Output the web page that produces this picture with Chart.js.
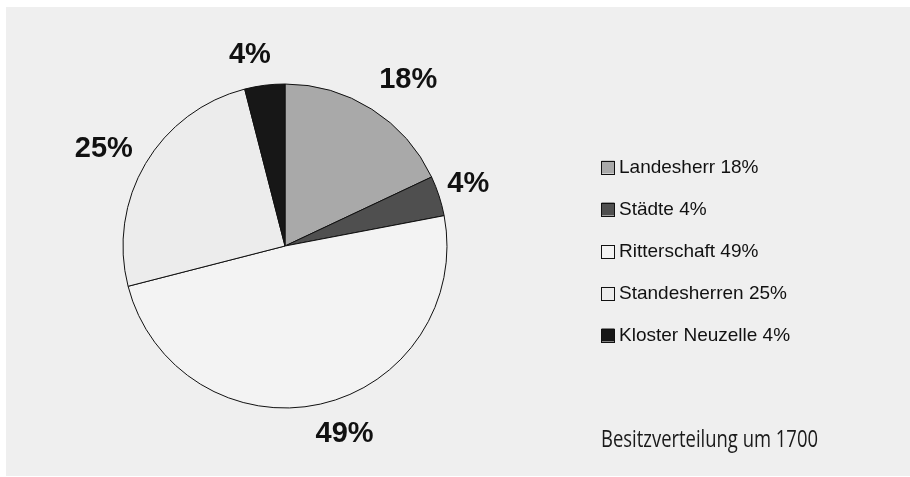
<!DOCTYPE html>
<html>
<head>
<meta charset="utf-8">
<script src="https://cdn.jsdelivr.net/npm/chart.js@4/dist/chart.umd.min.js"></script>
<style>
  html, body { margin: 0; padding: 0; background: #ffffff; }
  canvas { display: block; }
</style>
</head>
<body>
<canvas id="c" width="910" height="477"></canvas>
<script>
const categories = ["Landesherr", "Städte", "Ritterschaft", "Standesherren", "Kloster Neuzelle"];
const shares = [18, 4, 49, 25, 4];
const sliceColors = ["#a9a9a9", "#4f4f4f", "#f3f3f3", "#ececec", "#171717"];
const footnote = "Besitzverteilung um 1700";

// per-label nudges (px) applied after radial placement
const labelNudges = [[16, 3], [-7, 0], [16, -7], [-9, 5], [-10, 7]];

const panelPlugin = {
  id: 'panel',
  beforeDraw(chart) {
    const ctx = chart.ctx;
    ctx.save();
    ctx.fillStyle = '#ffffff';
    ctx.fillRect(0, 0, chart.width, chart.height);
    ctx.fillStyle = '#efefef';
    ctx.fillRect(6, 7, chart.width - 6, chart.height - 8);
    ctx.restore();
  }
};

const labelsPlugin = {
  id: 'pctLabels',
  afterDraw(chart) {
    const ctx = chart.ctx;
    const meta = chart.getDatasetMeta(0);
    ctx.save();
    // percentage labels around the pie
    ctx.font = 'bold 29px "Liberation Sans", Arial, sans-serif';
    ctx.fillStyle = '#111111';
    ctx.textAlign = 'center';
    ctx.textBaseline = 'middle';
    meta.data.forEach((arc, i) => {
      const p = arc.getProps(['x', 'y', 'startAngle', 'endAngle', 'outerRadius'], true);
      const mid = (p.startAngle + p.endAngle) / 2;
      const d = p.outerRadius + 38;
      const x = p.x + Math.cos(mid) * d + labelNudges[i][0];
      const y = p.y + Math.sin(mid) * d + labelNudges[i][1];
      ctx.fillText(shares[i] + '%', x, y);
    });

    // legend
    const lx = 601.5, ly0 = 167, step = 42, box = 13;
    ctx.font = '19px "Liberation Sans", Arial, sans-serif';
    ctx.textAlign = 'left';
    categories.forEach((name, i) => {
      const cy = ly0 + i * step;
      ctx.fillStyle = sliceColors[i];
      ctx.fillRect(lx, cy - box / 2, box, box);
      ctx.strokeStyle = '#111111';
      ctx.lineWidth = 1;
      ctx.strokeRect(lx, Math.round(cy - box / 2) + 0.5, box, box);
      ctx.fillStyle = '#111111';
      ctx.fillText(name + ' ' + shares[i] + '%', 619, cy + 1);
    });

    // footnote, condensed
    ctx.font = '23px "Open Sans", sans-serif';
    const w = ctx.measureText(footnote).width;
    const target = 217;
    ctx.translate(601, 440);
    ctx.scale(target / w, 1);
    ctx.fillStyle = '#1a1a1a';
    ctx.textBaseline = 'middle';
    ctx.fillText(footnote, 0, 0);
    ctx.restore();
  }
};

new Chart(document.getElementById('c'), {
  type: 'pie',
  data: {
    labels: categories,
    datasets: [{
      data: shares,
      backgroundColor: sliceColors,
      borderColor: '#111111',
      borderWidth: 1,
      radius: 162
    }]
  },
  options: {
    responsive: false,
    animation: false,
    devicePixelRatio: 1,
    layout: { padding: { left: 0, right: 340, top: 20, bottom: 5 } },
    plugins: {
      legend: { display: false },
      tooltip: { enabled: false },
      title: { display: false }
    }
  },
  plugins: [panelPlugin, labelsPlugin]
});
</script>
</body>
</html>
